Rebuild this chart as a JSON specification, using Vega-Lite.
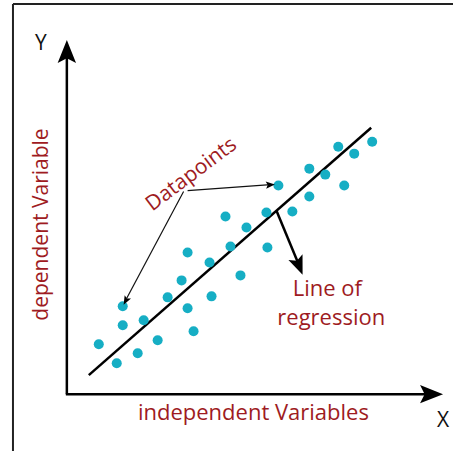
{
  "$schema": "https://vega.github.io/schema/vega-lite/v6.json",
  "width": 454,
  "height": 452,
  "padding": 0,
  "autosize": {"type": "fit", "contains": "padding"},
  "background": "white",
  "config": {"view": {"stroke": null}},
  "datasets": {
    "lines": [
      {"kind": "border", "x": 13, "y": 4, "x2": 13, "y2": 452},
      {"kind": "border", "x": 13, "y": 4, "x2": 454, "y2": 4},
      {"kind": "axis", "x": 67, "y": 395, "x2": 67, "y2": 56},
      {"kind": "axis", "x": 66, "y": 395, "x2": 434, "y2": 395},
      {"kind": "regression", "x": 89, "y": 376, "x2": 372, "y2": 128},
      {"kind": "pointer", "x": 277, "y": 211, "x2": 299, "y2": 264},
      {"kind": "thin", "x": 188, "y": 191, "x2": 271, "y2": 185},
      {"kind": "thin", "x": 184, "y": 192, "x2": 127, "y2": 299}
    ],
    "points": [
      {"x": 339, "y": 147}, {"x": 355, "y": 154}, {"x": 373, "y": 142},
      {"x": 310, "y": 169}, {"x": 326, "y": 175}, {"x": 345, "y": 186},
      {"x": 279, "y": 186}, {"x": 310, "y": 197}, {"x": 293, "y": 212},
      {"x": 267, "y": 213}, {"x": 226, "y": 217}, {"x": 247, "y": 228},
      {"x": 231, "y": 247}, {"x": 188, "y": 253}, {"x": 268, "y": 248},
      {"x": 210, "y": 263}, {"x": 241, "y": 276}, {"x": 182, "y": 281},
      {"x": 168, "y": 298}, {"x": 212, "y": 297}, {"x": 188, "y": 309},
      {"x": 123, "y": 307}, {"x": 144, "y": 321}, {"x": 123, "y": 326},
      {"x": 194, "y": 332}, {"x": 158, "y": 341}, {"x": 99, "y": 345},
      {"x": 138, "y": 354}, {"x": 117, "y": 364}
    ],
    "heads": [
      {"name": "yaxis", "x": 67, "y": 51.5},
      {"name": "xaxis", "x": 432.5, "y": 395},
      {"name": "pointer", "x": 299.7, "y": 266.6},
      {"name": "right", "x": 271, "y": 185.3},
      {"name": "downleft", "x": 126, "y": 301.5}
    ],
    "labels": [
      {"kind": "axisname", "x": 41, "y": 44, "text": "Y"},
      {"kind": "axisname", "x": 444, "y": 422, "text": "X"},
      {"kind": "caption", "x": 254, "y": 414, "text": "independent Variables"},
      {"kind": "caption", "x": 328, "y": 290, "text": "Line of"},
      {"kind": "caption", "x": 332, "y": 319, "text": "regression"},
      {"kind": "vertical", "x": 42, "y": 225, "text": "dependent Variable"},
      {"kind": "tilted", "x": 192, "y": 175, "text": "Datapoints"}
    ]
  },
  "encoding": {
    "x": {"field": "x", "type": "quantitative", "scale": {"domain": [0, 454], "nice": false, "zero": false}, "axis": null},
    "y": {"field": "y", "type": "quantitative", "scale": {"domain": [0, 452], "nice": false, "zero": false, "reverse": true}, "axis": null}
  },
  "layer": [
    {
      "data": {"name": "lines"},
      "transform": [{"filter": "datum.kind === 'border'"}],
      "mark": {"type": "rule", "strokeWidth": 2, "color": "#222222"},
      "encoding": {"x2": {"field": "x2"}, "y2": {"field": "y2"}}
    },
    {
      "data": {"name": "lines"},
      "transform": [{"filter": "datum.kind === 'axis' || datum.kind === 'regression' || datum.kind === 'pointer'"}],
      "mark": {"type": "rule", "strokeWidth": 2.5, "color": "#000000"},
      "encoding": {"x2": {"field": "x2"}, "y2": {"field": "y2"}}
    },
    {
      "data": {"name": "lines"},
      "transform": [{"filter": "datum.kind === 'thin'"}],
      "mark": {"type": "rule", "strokeWidth": 1.2, "color": "#111111"},
      "encoding": {"x2": {"field": "x2"}, "y2": {"field": "y2"}}
    },
    {
      "data": {"name": "points"},
      "mark": {"type": "point", "shape": "circle", "filled": true, "size": 100, "color": "#16aec4", "opacity": 1, "strokeWidth": 0}
    },
    {
      "data": {"name": "heads"},
      "transform": [{"filter": "datum.name === 'yaxis'"}],
      "mark": {"type": "point", "shape": "M0,-1L0.8,1L0,0.6L-0.8,1Z", "filled": true, "size": 529, "angle": 0, "color": "#000000", "opacity": 1, "strokeWidth": 0}
    },
    {
      "data": {"name": "heads"},
      "transform": [{"filter": "datum.name === 'xaxis'"}],
      "mark": {"type": "point", "shape": "M0,-1L0.8,1L0,0.6L-0.8,1Z", "filled": true, "size": 529, "angle": 90, "color": "#000000", "opacity": 1, "strokeWidth": 0}
    },
    {
      "data": {"name": "heads"},
      "transform": [{"filter": "datum.name === 'pointer'"}],
      "mark": {"type": "point", "shape": "M0,-1L0.8,1L0,0.6L-0.8,1Z", "filled": true, "size": 361, "angle": 158, "color": "#000000", "opacity": 1, "strokeWidth": 0}
    },
    {
      "data": {"name": "heads"},
      "transform": [{"filter": "datum.name === 'right'"}],
      "mark": {"type": "point", "shape": "M0,-1L0.8,1L0,0.6L-0.8,1Z", "filled": true, "size": 81, "angle": 86, "color": "#000000", "opacity": 1, "strokeWidth": 0}
    },
    {
      "data": {"name": "heads"},
      "transform": [{"filter": "datum.name === 'downleft'"}],
      "mark": {"type": "point", "shape": "M0,-1L0.8,1L0,0.6L-0.8,1Z", "filled": true, "size": 81, "angle": 208, "color": "#000000", "opacity": 1, "strokeWidth": 0}
    },
    {
      "data": {"name": "labels"},
      "transform": [{"filter": "datum.kind === 'axisname'"}],
      "mark": {"type": "text", "font": "Open Sans", "fontSize": 21, "color": "#111111", "align": "center", "baseline": "middle"},
      "encoding": {"text": {"field": "text"}}
    },
    {
      "data": {"name": "labels"},
      "transform": [{"filter": "datum.kind === 'caption'"}],
      "mark": {"type": "text", "font": "Open Sans", "fontSize": 22, "color": "#9e1b22", "align": "center", "baseline": "middle"},
      "encoding": {"text": {"field": "text"}}
    },
    {
      "data": {"name": "labels"},
      "transform": [{"filter": "datum.kind === 'vertical'"}],
      "mark": {"type": "text", "font": "Open Sans", "fontSize": 21, "color": "#9e1b22", "align": "center", "baseline": "middle", "angle": 270},
      "encoding": {"text": {"field": "text"}}
    },
    {
      "data": {"name": "labels"},
      "transform": [{"filter": "datum.kind === 'tilted'"}],
      "mark": {"type": "text", "font": "Open Sans", "fontSize": 21, "color": "#9e1b22", "align": "center", "baseline": "middle", "angle": 323},
      "encoding": {"text": {"field": "text"}}
    }
  ]
}
